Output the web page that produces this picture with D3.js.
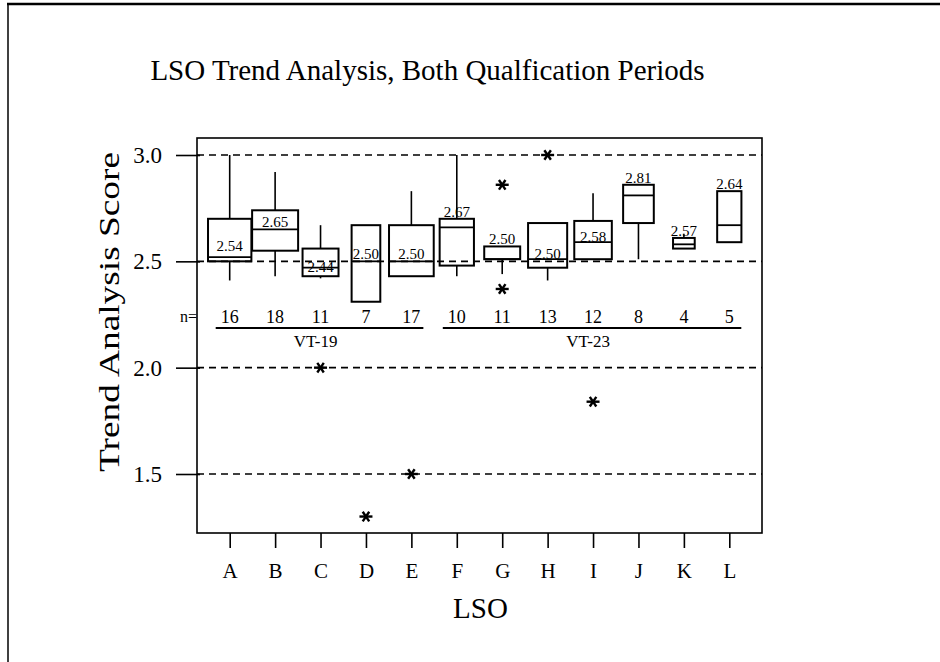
<!DOCTYPE html>
<html>
<head>
<meta charset="utf-8">
<script src="https://cdn.jsdelivr.net/npm/d3@7"></script>
<style>
  html, body { margin: 0; padding: 0; background: #fff; }
  svg { display: block; font-family: "Liberation Serif", "Times New Roman", serif; }
</style>
</head>
<body>
<svg id="chart" width="940" height="662"></svg>
<script>
// ---- data ----
const categories = ["A","B","C","D","E","F","G","H","I","J","K","L"];
const nCounts    = [16, 18, 11, 7, 17, 10, 11, 13, 12, 8, 4, 5];
const whiskerLow = [2.41, 2.43, 2.42, 2.31, 2.43, 2.43, 2.44, 2.41, 2.51, 2.51, 2.56, 2.59];
const q1Values   = [2.50, 2.55, 2.43, 2.31, 2.43, 2.48, 2.51, 2.47, 2.51, 2.68, 2.56, 2.59];
const medians    = [2.52, 2.65, 2.47, 2.50, 2.50, 2.66, 2.51, 2.51, 2.59, 2.81, 2.58, 2.67];
const q3Values   = [2.70, 2.74, 2.56, 2.67, 2.67, 2.70, 2.57, 2.68, 2.69, 2.86, 2.61, 2.83];
const whiskerHigh= [3.00, 2.92, 2.67, 2.67, 2.83, 3.00, 2.57, 2.68, 2.82, 2.86, 2.63, 2.83];
const means      = [2.54, 2.65, 2.44, 2.50, 2.50, 2.67, 2.50, 2.50, 2.58, 2.81, 2.57, 2.64];
const outliers   = [[], [], [2.0], [1.3], [1.5], [], [2.86, 2.37], [3.0], [1.84], [], [], []];
const groupNames = ["VT-19", "VT-23"];
const groupFirst = ["A", "F"];
const groupLast  = ["E", "L"];
const yTicks     = [1.5, 2.0, 2.5, 3.0];
const titleText  = "LSO Trend Analysis, Both Qualfication Periods";
const xTitle     = "LSO";
const yTitle     = "Trend Analysis Score";

// ---- layout ----
const svg = d3.select("#chart");
const frame = { left: 197, right: 762, top: 138, bottom: 533 };

const x = d3.scalePoint().domain(categories).range([frame.left, frame.right]).padding(0.72);
const y = d3.scaleLinear().domain([1.5, 3.0]).range([474, 155]);
const w = d3.scaleSqrt().domain([0, 18]).range([0, 46]);

// outer page border (top & left)
svg.append("line").attr("x1", 7).attr("x2", 940).attr("y1", 4).attr("y2", 4)
  .attr("stroke", "#000").attr("stroke-width", 2.5);
svg.append("line").attr("x1", 8).attr("x2", 8).attr("y1", 3).attr("y2", 662)
  .attr("stroke", "#000").attr("stroke-width", 1.5);

// title
svg.append("text").attr("x", (frame.left + frame.right) / 2 - 52).attr("y", 80)
  .attr("text-anchor", "middle").attr("font-size", 29).text(titleText);

// dashed reference lines
svg.append("g").selectAll("line").data(yTicks).join("line")
  .attr("x1", frame.left).attr("x2", frame.right)
  .attr("y1", d => y(d)).attr("y2", d => y(d))
  .attr("stroke", "#000").attr("stroke-width", 1.6).attr("stroke-dasharray", "7,5");

// frame
svg.append("rect").attr("x", frame.left).attr("y", frame.top)
  .attr("width", frame.right - frame.left).attr("height", frame.bottom - frame.top)
  .attr("fill", "none").attr("stroke", "#000").attr("stroke-width", 1.6);

// y axis
const yAxis = svg.append("g").attr("transform", `translate(${frame.left},0)`)
  .call(d3.axisLeft(y).tickValues(yTicks).tickSize(21).tickPadding(14).tickFormat(d3.format(".1f")));
yAxis.select(".domain").remove();
yAxis.selectAll(".tick line").attr("x1", 3).attr("stroke-width", 1.6);
yAxis.selectAll(".tick text").attr("font-size", 23).attr("font-family", "Liberation Serif, serif").attr("fill", "#000");

// x axis
const xAxis = svg.append("g").attr("transform", `translate(0,${frame.bottom})`)
  .call(d3.axisBottom(x).tickSize(15).tickPadding(15));
xAxis.select(".domain").remove();
xAxis.selectAll(".tick line").attr("stroke-width", 1.6);
xAxis.selectAll(".tick text").attr("font-size", 21).attr("font-family", "Liberation Serif, serif").attr("fill", "#000");

// axis titles
svg.append("text").attr("x", (frame.left + frame.right) / 2 + 1).attr("y", 618)
  .attr("text-anchor", "middle").attr("font-size", 29).text(xTitle);
svg.append("text").attr("transform", "rotate(-90)")
  .attr("x", -312).attr("y", 119)
  .attr("text-anchor", "middle").attr("font-size", 30)
  .attr("textLength", 320).attr("lengthAdjust", "spacingAndGlyphs")
  .text(yTitle);

// box plots
const boxes = categories.map((c, i) => ({
  c, n: nCounts[i], lo: whiskerLow[i], q1: q1Values[i], med: medians[i],
  q3: q3Values[i], hi: whiskerHigh[i], mean: means[i], out: outliers[i]
}));

const g = svg.append("g").attr("stroke", "#000").attr("fill", "none");
boxes.forEach(b => {
  const cx = x(b.c), bw = w(b.n);
  if (b.hi > b.q3) g.append("line").attr("x1", cx).attr("x2", cx).attr("y1", y(b.q3)).attr("y2", y(b.hi)).attr("stroke-width", 1.6);
  if (b.lo < b.q1) g.append("line").attr("x1", cx).attr("x2", cx).attr("y1", y(b.q1)).attr("y2", y(b.lo)).attr("stroke-width", 1.6);
  g.append("rect").attr("x", cx - bw / 2).attr("y", y(b.q3)).attr("width", bw)
    .attr("height", y(b.q1) - y(b.q3)).attr("stroke-width", 2);
  g.append("line").attr("x1", cx - bw / 2).attr("x2", cx + bw / 2)
    .attr("y1", y(b.med)).attr("y2", y(b.med)).attr("stroke-width", 1.8);
  // outliers (asterisks)
  b.out.forEach(v => {
    const oy = y(v), r = 6.5;
    [0, 60, 120].forEach(a => {
      const rad = a * Math.PI / 180;
      g.append("line").attr("x1", cx - r * Math.cos(rad)).attr("x2", cx + r * Math.cos(rad))
        .attr("y1", oy - r * Math.sin(rad) * 0.85).attr("y2", oy + r * Math.sin(rad) * 0.85)
        .attr("stroke-width", 2.4);
    });
  });
  // mean label
  const inside = (y(b.mean) - y(b.q3) >= 13) && b.mean >= b.q1 && bw >= 26;
  const ly = inside ? y(b.mean) - 2 : y(b.q3) - 2;
  svg.append("text").attr("x", cx).attr("y", ly).attr("text-anchor", "middle")
    .attr("font-size", 15).attr("fill", "#000").text(b.mean.toFixed(2));
});

// n counts
svg.append("text").attr("x", 197).attr("y", 322).attr("text-anchor", "end")
  .attr("font-size", 16).text("n=");
svg.append("g").selectAll("text").data(boxes).join("text")
  .attr("x", d => x(d.c)).attr("y", 323).attr("text-anchor", "middle")
  .attr("font-size", 18).text(d => d.n);

// group lines and labels
groupNames.forEach((name, i) => {
  const x0 = x(groupFirst[i]) - 14, x1 = x(groupLast[i]) + 12;
  svg.append("line").attr("x1", x0).attr("x2", x1).attr("y1", 328).attr("y2", 328)
    .attr("stroke", "#000").attr("stroke-width", 2);
  svg.append("text").attr("x", (x0 + x1) / 2 - 4).attr("y", 347).attr("text-anchor", "middle")
    .attr("font-size", 17).text(name);
});
</script>
</body>
</html>
